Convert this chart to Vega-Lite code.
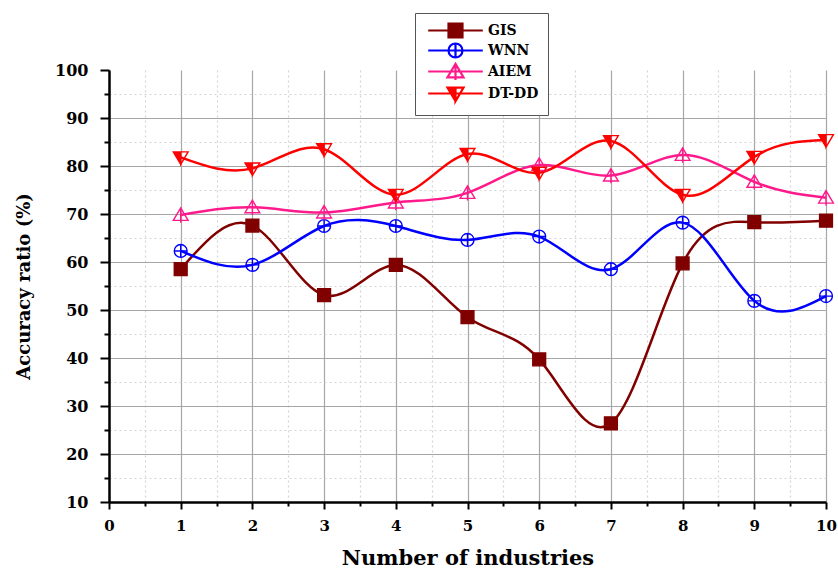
{
  "$schema": "https://vega.github.io/schema/vega-lite/v6.json",
  "width": 717,
  "height": 432,
  "autosize": "none",
  "padding": {"left": 109, "top": 70, "right": 12, "bottom": 67},
  "background": "white",
  "config": {
    "view": {"stroke": null},
    "font": "DejaVu Serif"
  },
  "data": {
    "values": [
      {"n": 1, "acc": 58.5, "method": "GIS"},
      {"n": 2, "acc": 67.6, "method": "GIS"},
      {"n": 3, "acc": 53.1, "method": "GIS"},
      {"n": 4, "acc": 59.4, "method": "GIS"},
      {"n": 5, "acc": 48.5, "method": "GIS"},
      {"n": 6, "acc": 39.7, "method": "GIS"},
      {"n": 7, "acc": 26.4, "method": "GIS"},
      {"n": 8, "acc": 59.7, "method": "GIS"},
      {"n": 9, "acc": 68.3, "method": "GIS"},
      {"n": 10, "acc": 68.6, "method": "GIS"},
      {"n": 1, "acc": 62.3, "method": "WNN"},
      {"n": 2, "acc": 59.4, "method": "WNN"},
      {"n": 3, "acc": 67.5, "method": "WNN"},
      {"n": 4, "acc": 67.5, "method": "WNN"},
      {"n": 5, "acc": 64.6, "method": "WNN"},
      {"n": 6, "acc": 65.3, "method": "WNN"},
      {"n": 7, "acc": 58.5, "method": "WNN"},
      {"n": 8, "acc": 68.2, "method": "WNN"},
      {"n": 9, "acc": 51.9, "method": "WNN"},
      {"n": 10, "acc": 52.9, "method": "WNN"},
      {"n": 1, "acc": 69.8, "method": "AIEM"},
      {"n": 2, "acc": 71.4, "method": "AIEM"},
      {"n": 3, "acc": 70.3, "method": "AIEM"},
      {"n": 4, "acc": 72.4, "method": "AIEM"},
      {"n": 5, "acc": 74.4, "method": "AIEM"},
      {"n": 6, "acc": 80.2, "method": "AIEM"},
      {"n": 7, "acc": 78.0, "method": "AIEM"},
      {"n": 8, "acc": 82.3, "method": "AIEM"},
      {"n": 9, "acc": 76.7, "method": "AIEM"},
      {"n": 10, "acc": 73.4, "method": "AIEM"},
      {"n": 1, "acc": 81.8, "method": "DT-DD"},
      {"n": 2, "acc": 79.5, "method": "DT-DD"},
      {"n": 3, "acc": 83.5, "method": "DT-DD"},
      {"n": 4, "acc": 74.0, "method": "DT-DD"},
      {"n": 5, "acc": 82.5, "method": "DT-DD"},
      {"n": 6, "acc": 78.6, "method": "DT-DD"},
      {"n": 7, "acc": 85.2, "method": "DT-DD"},
      {"n": 8, "acc": 74.0, "method": "DT-DD"},
      {"n": 9, "acc": 81.9, "method": "DT-DD"},
      {"n": 10, "acc": 85.4, "method": "DT-DD"}
    ]
  },
  "encoding": {
    "x": {
      "field": "n",
      "type": "quantitative",
      "scale": {"domain": [0, 10], "nice": false, "zero": false},
      "axis": {
        "title": "Number of industries",
        "titleFont": "DejaVu Serif",
        "titleFontSize": 21,
        "titleFontWeight": "bold",
        "titleColor": "black",
        "titlePadding": 14,
        "values": [0, 0.5, 1, 1.5, 2, 2.5, 3, 3.5, 4, 4.5, 5, 5.5, 6, 6.5, 7, 7.5, 8, 8.5, 9, 9.5, 10],
        "labelExpr": "datum.value % 1 === 0 ? format(datum.value, 'd') : ''",
        "labelFont": "DejaVu Serif",
        "labelFontSize": 15,
        "labelFontWeight": "bold",
        "labelColor": "black",
        "labelPadding": 9,
        "labelFlush": false,
        "labelOverlap": false,
        "domainColor": "black",
        "domainWidth": 2.5,
        "tickColor": "black",
        "tickWidth": 2,
        "tickSize": {"condition": {"test": "datum.value % 1 !== 0", "value": 4}, "value": 7},
        "grid": true,
        "gridColor": {"condition": {"test": "datum.value % 1 !== 0", "value": "#d4d4d4"}, "value": "#a6a6a6"},
        "gridDash": {"condition": {"test": "datum.value % 1 !== 0", "value": [2, 3]}, "value": []},
        "gridWidth": 1.2
      }
    },
    "y": {
      "field": "acc",
      "type": "quantitative",
      "scale": {"domain": [10, 100], "nice": false, "zero": false},
      "axis": {
        "title": "Accuracy ratio (%)",
        "titleFont": "DejaVu Serif",
        "titleFontSize": 18,
        "titleFontWeight": "bold",
        "titleColor": "black",
        "titlePadding": 21,
        "values": [10, 15, 20, 25, 30, 35, 40, 45, 50, 55, 60, 65, 70, 75, 80, 85, 90, 95, 100],
        "labelExpr": "datum.value % 10 === 0 ? datum.label : ''",
        "labelFont": "DejaVu Serif",
        "labelFontSize": 16,
        "labelFontWeight": "bold",
        "labelColor": "black",
        "labelPadding": 12,
        "labelFlush": false,
        "labelOverlap": false,
        "domainColor": "black",
        "domainWidth": 2.5,
        "tickColor": "black",
        "tickWidth": 2,
        "tickSize": {"condition": {"test": "datum.value % 10 !== 0", "value": 5}, "value": 9},
        "grid": true,
        "gridColor": {"condition": {"test": "datum.value % 10 !== 0", "value": "#d4d4d4"}, "value": "#a6a6a6"},
        "gridDash": {"condition": {"test": "datum.value % 10 !== 0", "value": [2, 3]}, "value": []},
        "gridOpacity": {"condition": {"test": "datum.value === 100", "value": 0}, "value": 1},
        "gridWidth": 1.2
      }
    }
  },
  "layer": [
    {
      "mark": {"type": "line", "interpolate": "natural", "strokeWidth": 2.5},
      "encoding": {
        "stroke": {
          "field": "method",
          "type": "nominal",
          "scale": {"domain": ["GIS", "WNN", "AIEM", "DT-DD"], "range": ["#800000", "#0000FF", "#FF1A8C", "#FF0000"]},
          "legend": {
            "title": null,
            "orient": "none",
            "legendX": 306,
            "legendY": -57,
            "direction": "vertical",
            "padding": 9,
            "rowPadding": -3,
            "fillColor": "white",
            "strokeColor": "#555555",
            "symbolSize": 196,
            "symbolStrokeWidth": 2.2,
            "symbolOffset": 23,
            "labelOffset": 24,
            "labelFont": "DejaVu Serif",
            "labelFontSize": 14,
            "labelFontWeight": "bold",
            "labelColor": "black",
            "encode": {
              "symbols": {
                "update": {
                  "shape": {"signal": "datum.value === 'GIS' ? 'M-3.9,0H3.9M-1,-1H1V1H-1Z' : datum.value === 'WNN' ? 'M-3.9,0H3.9M-1,0A1,1,0,1,1,1,0A1,1,0,1,1,-1,0ZM0,-1V1' : datum.value === 'AIEM' ? 'M-3.9,0H3.9M0,-1.1L1.15,0.85H-1.15ZM0,-1.1V1.2' : 'M-3.9,0H3.9M-1.15,-0.85H1.15L0,1.1ZM0,-0.85V1.1L1.15,-0.85Z'"},
                  "fill": {"signal": "datum.value === 'GIS' ? '#800000' : datum.value === 'DT-DD' ? '#FF0000' : 'transparent'"},
                  "size": {"value": 196},
                  "strokeWidth": {"value": 2.2},
                  "opacity": {"value": 1}
                }
              }
            }
          }
        }
      }
    },
    {
      "transform": [{"filter": "datum.method === 'GIS'"}],
      "mark": {"type": "point", "shape": "M-1,-1H1V1H-1Z", "size": 165, "filled": true, "fill": "#800000", "stroke": "#800000", "strokeWidth": 1.4, "opacity": 1}
    },
    {
      "transform": [{"filter": "datum.method === 'WNN'"}],
      "mark": {"type": "point", "shape": "M-1,0A1,1,0,1,1,1,0A1,1,0,1,1,-1,0ZM-1,0H1M0,-1V1", "size": 165, "filled": false, "fill": "transparent", "stroke": "#0000FF", "strokeWidth": 1.4, "opacity": 1}
    },
    {
      "transform": [{"filter": "datum.method === 'AIEM'"}],
      "mark": {"type": "point", "shape": "M0,-1.1L1.15,0.85H-1.15ZM0,-1.1V1.2", "size": 165, "filled": false, "fill": "transparent", "stroke": "#FF1A8C", "strokeWidth": 1.4, "opacity": 1}
    },
    {
      "transform": [{"filter": "datum.method === 'DT-DD'"}],
      "mark": {"type": "point", "shape": "M-1.15,-0.85H1.15L0,1.1ZM0,-0.85V1.1L1.15,-0.85Z", "size": 165, "filled": true, "fill": "#FF0000", "stroke": "#FF0000", "strokeWidth": 1.4, "opacity": 1}
    }
  ]
}
